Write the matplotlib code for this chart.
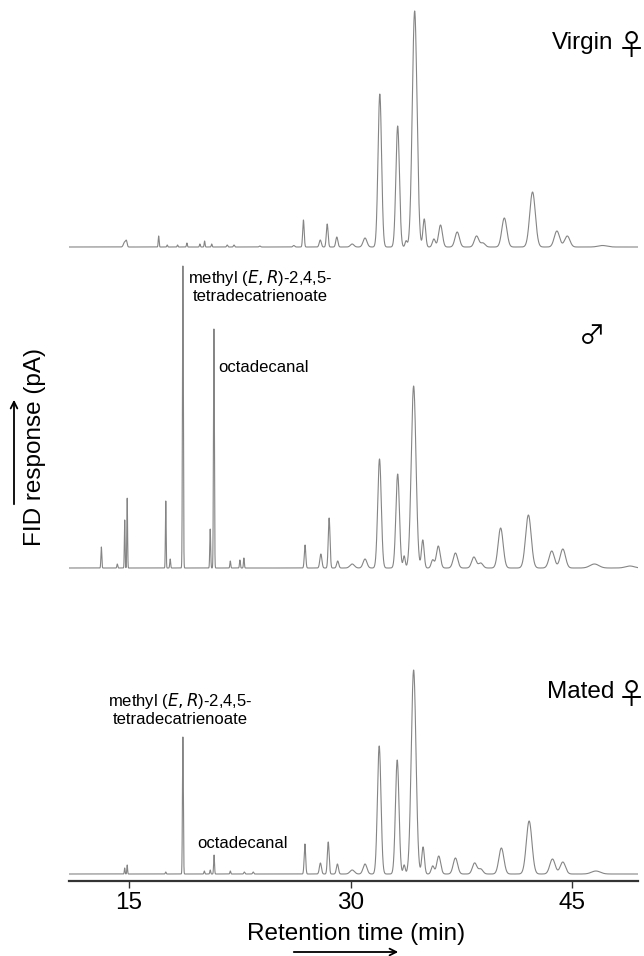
import matplotlib
matplotlib.use("Agg")
import matplotlib.pyplot as plt
import numpy as np

plt.rcParams['font.family'] = ['Liberation Sans', 'DejaVu Sans']

# peak tables: retention time (min), height (pA, arbitrary), width (sigma, min)
virgin_rt = [14.70, 14.82, 17.00, 17.58, 18.28, 18.91, 19.79, 20.11, 20.59, 21.64, 22.10, 23.85, 26.15,
             26.80, 27.94, 28.41, 29.06, 30.10, 30.97, 31.97, 33.18, 33.75, 34.33, 34.98, 35.63, 36.08,
             37.21, 38.52, 38.95, 40.40, 42.31, 43.96, 44.66, 47.05]
virgin_h = [5, 5, 11, 2, 2, 4, 3, 6, 3, 2, 2, 1, 1.5,
            27, 7, 23, 10, 3, 9, 153, 121, 6, 236, 28, 8, 22,
            15, 11, 4, 29, 55, 16, 11, 1.5]
virgin_w = [0.08, 0.05, 0.03, 0.03, 0.03, 0.03, 0.03, 0.03, 0.03, 0.04, 0.04, 0.05, 0.06,
            0.05, 0.07, 0.06, 0.07, 0.12, 0.13, 0.12, 0.12, 0.07, 0.16, 0.09, 0.10, 0.13,
            0.15, 0.15, 0.15, 0.17, 0.19, 0.18, 0.18, 0.30]

male_rt = [13.12, 14.20, 14.70, 14.87, 17.48, 17.78, 18.64, 20.49, 20.74, 21.85, 22.50, 22.77,
           26.91, 27.98, 28.54, 29.12, 30.10, 30.97, 31.95, 33.18, 33.62, 34.26, 34.88, 35.55,
           35.93, 37.09, 38.34, 38.80, 40.15, 42.03, 43.61, 44.36, 46.50, 48.90]
male_h = [21, 4, 48, 70, 67, 9, 302, 39, 239, 7, 8, 10,
          23, 14, 50, 7, 4, 9, 109, 94, 12, 182, 28, 8,
          22, 15, 11, 5, 40, 53, 17, 19, 4, 2]
male_w = [0.03, 0.03, 0.025, 0.025, 0.025, 0.03, 0.03, 0.03, 0.03, 0.03, 0.03, 0.03,
          0.05, 0.07, 0.06, 0.07, 0.15, 0.13, 0.12, 0.12, 0.07, 0.16, 0.09, 0.10,
          0.13, 0.15, 0.15, 0.15, 0.17, 0.19, 0.18, 0.18, 0.30, 0.30]

mated_rt = [14.70, 14.87, 17.48, 18.64, 20.09, 20.49, 20.75, 21.85, 22.80, 23.40,
            26.90, 27.95, 28.48, 29.10, 30.10, 30.97, 31.93, 33.15, 33.62, 34.26, 34.90, 35.55,
            35.96, 37.09, 38.39, 38.80, 40.20, 42.08, 43.66, 44.36, 46.60]
mated_h = [6, 9, 2, 137, 3, 4, 19, 3, 2, 2,
           30, 11, 32, 10, 4, 10, 128, 114, 9, 204, 27, 8,
           18, 16, 11, 5, 26, 53, 15, 12, 3]
mated_w = [0.025, 0.025, 0.03, 0.03, 0.03, 0.03, 0.03, 0.03, 0.04, 0.04,
           0.05, 0.07, 0.06, 0.07, 0.15, 0.13, 0.12, 0.12, 0.07, 0.16, 0.09, 0.10,
           0.13, 0.15, 0.15, 0.15, 0.17, 0.19, 0.18, 0.18, 0.30]

ticks = [15, 30, 45]


def trace(t, rt, h, w):
    y = np.zeros_like(t)
    for r, a, s in zip(rt, h, w):
        y += a * np.exp(-0.5 * ((t - r) / s) ** 2)
    return y


def fx(px):
    return px / 644


def fy(py):
    return 1 - py / 956


t = np.arange(10.9, 49.6, 0.004)

fig = plt.figure(figsize=(6.44, 9.56), dpi=100)
ax = fig.add_axes([fx(69.3), fy(881), (638 - 69.3) / 644, 881 / 956])

grey = '#858585'
ax.plot(t, 634 + trace(t, virgin_rt, virgin_h, virgin_w), color=grey, lw=0.8)
ax.plot(t, 313 + trace(t, male_rt, male_h, male_w), color=grey, lw=0.8)
ax.plot(t, 7 + trace(t, mated_rt, mated_h, mated_w), color=grey, lw=0.8)

ax.set_xlim(10.95, 49.45)
ax.set_ylim(0, 881)
for s in ['top', 'right', 'left']:
    ax.spines[s].set_visible(False)
ax.spines['bottom'].set_linewidth(1.6)
ax.spines['bottom'].set_color('#333333')
ax.set_yticks([])
ax.set_xticks(ticks)
ax.tick_params(axis='x', length=5, width=1.0, color='#333333', labelsize=17.5, pad=3)

lab = 12
ax.text(23.85, 595, 'methyl ($\\mathit{E,R}$)-2,4,5-\ntetradecatrienoate', ha='center', va='center',
        multialignment='center', fontsize=lab, linespacing=1.15)
ax.text(21.04, 514, 'octadecanal', ha='left', va='center', fontsize=lab)
ax.text(18.44, 172, 'methyl ($\\mathit{E,R}$)-2,4,5-\ntetradecatrienoate', ha='center', va='center',
        multialignment='center', fontsize=lab, linespacing=1.15)
ax.text(19.64, 38, 'octadecanal', ha='left', va='center', fontsize=lab)

# sample labels
sym = ['Noto Sans CJK JP', 'DejaVu Sans']
fig.text(fx(552), fy(43), 'Virgin', ha='left', va='center', fontsize=17.5)
fig.text(fx(631), fy(47), '\u2640', ha='center', va='center', fontsize=21, family=sym)
fig.text(fx(592), fy(336), '\u2642', ha='center', va='center', fontsize=19, family=sym)
fig.text(fx(547), fy(692), 'Mated', ha='left', va='center', fontsize=17.5)
fig.text(fx(631), fy(696), '\u2640', ha='center', va='center', fontsize=21, family=sym)

fig.text(fx(356), fy(934), 'Retention time (min)', ha='center', va='center', fontsize=17.5)
fig.text(fx(35), fy(447), 'FID response (pA)', ha='center', va='center', rotation=90, fontsize=17.5)

fig.patches.append(matplotlib.patches.FancyArrowPatch((fx(291), fy(952)), (fx(401), fy(952)),
                   transform=fig.transFigure, arrowstyle='->', mutation_scale=12, lw=1.3, color='black'))
fig.patches.append(matplotlib.patches.FancyArrowPatch((fx(14), fy(507)), (fx(14), fy(397)),
                   transform=fig.transFigure, arrowstyle='->', mutation_scale=12, lw=1.3, color='black'))

fig.savefig('out.png', dpi=100)
